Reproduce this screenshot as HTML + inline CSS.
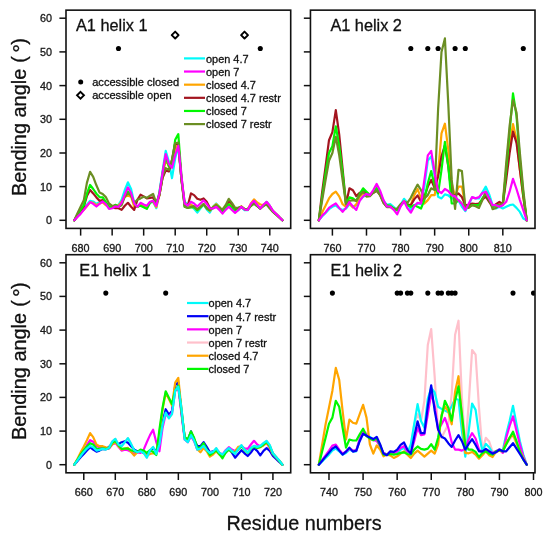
<!DOCTYPE html>
<html><head><meta charset="utf-8"><style>
html,body{margin:0;padding:0;background:#fff;}
svg{display:block;font-family:"Liberation Sans",sans-serif;will-change:transform;}
text{stroke:#111;stroke-width:0.3px;}
</style></head><body>
<svg width="550" height="541" viewBox="0 0 550 541">
<rect width="550" height="541" fill="#fff"/>

<clipPath id="cp1"><rect x="66.0" y="10.15" width="224.7" height="218.25"/></clipPath>
<g clip-path="url(#cp1)" fill="none" stroke-width="2.2" stroke-linejoin="round" stroke-linecap="round">
<polyline stroke="#00FAFA" points="74.3,220.3 77.5,216.3 80.6,212.6 83.8,208.5 86.9,204.8 90.1,200.8 93.2,201.5 96.4,203.8 99.5,202.1 102.7,201.1 105.8,203.8 109.0,206.8 112.2,207.9 115.3,205.5 118.5,204.8 121.6,199.8 124.8,190.0 127.9,182.3 131.1,189.0 134.2,202.8 137.4,206.8 140.5,204.5 143.7,206.8 146.8,208.2 150.0,202.8 153.1,201.8 156.3,208.2 159.4,191.7 162.6,170.8 165.7,150.9 168.9,161.7 172.0,178.2 175.2,158.3 178.3,146.6 181.5,179.9 184.7,201.8 187.8,204.5 191.0,204.5 194.1,208.9 197.3,212.6 200.4,208.5 203.6,204.5 206.7,209.5 209.9,212.6 213.0,206.8 216.2,203.5 219.3,206.8 222.5,211.6 225.6,207.5 228.8,202.8 231.9,206.8 235.1,210.9 238.2,210.2 241.4,206.8 244.5,210.2 247.7,210.2 250.9,204.5 254.0,201.5 257.2,205.5 260.3,208.5 263.5,204.8 266.6,201.8 269.8,205.8 272.9,210.9 276.1,213.9 279.2,216.9 282.4,220.3"/>
<polyline stroke="#FFA500" points="74.3,220.3 77.5,216.3 80.6,212.6 83.8,209.9 86.9,206.2 90.1,202.1 93.2,202.8 96.4,205.2 99.5,203.5 102.7,202.5 105.8,205.2 109.0,206.2 112.2,207.2 115.3,205.5 118.5,205.5 121.6,201.8 124.8,196.7 127.9,195.7 131.1,196.7 134.2,206.8 137.4,206.8 140.5,204.8 143.7,206.2 146.8,207.5 150.0,202.5 153.1,201.5 156.3,207.2 159.4,195.1 162.6,176.5 165.7,159.7 168.9,166.4 172.0,166.4 175.2,149.6 178.3,142.9 181.5,179.9 184.7,203.5 187.8,205.2 191.0,204.5 194.1,207.5 197.3,210.2 200.4,207.5 203.6,204.2 206.7,208.2 209.9,210.9 213.0,206.8 216.2,204.2 219.3,206.8 222.5,210.9 225.6,207.5 228.8,203.5 231.9,206.8 235.1,210.9 238.2,209.5 241.4,206.2 244.5,209.2 247.7,209.5 250.9,203.5 254.0,199.4 257.2,202.5 260.3,204.5 263.5,204.8 266.6,202.5 269.8,206.2 272.9,210.9 276.1,213.9 279.2,216.9 282.4,220.3"/>
<polyline stroke="#A3151F" points="74.3,220.3 77.5,215.6 80.6,210.9 83.8,206.8 86.9,196.1 90.1,190.0 93.2,193.4 96.4,197.4 99.5,200.8 102.7,200.1 105.8,203.5 109.0,206.8 112.2,207.5 115.3,208.2 118.5,208.2 121.6,209.9 124.8,205.8 127.9,202.8 131.1,206.8 134.2,209.9 137.4,199.8 140.5,194.7 143.7,196.4 146.8,198.4 150.0,197.8 153.1,197.4 156.3,204.5 159.4,195.1 162.6,177.9 165.7,170.5 168.9,171.5 172.0,159.7 175.2,143.2 178.3,144.2 181.5,179.9 184.7,205.5 187.8,205.5 191.0,193.4 194.1,195.1 197.3,198.8 200.4,199.8 203.6,198.4 206.7,201.8 209.9,207.9 213.0,208.2 216.2,206.8 219.3,208.5 222.5,210.9 225.6,206.8 228.8,200.8 231.9,203.8 235.1,209.5 238.2,208.5 241.4,206.8 244.5,209.2 247.7,209.5 250.9,205.5 254.0,202.8 257.2,205.5 260.3,208.5 263.5,205.5 266.6,203.5 269.8,206.8 272.9,211.6 276.1,214.3 279.2,217.3 282.4,220.3"/>
<polyline stroke="#00F800" points="74.3,220.3 77.5,214.9 80.6,209.9 83.8,205.2 86.9,193.7 90.1,185.0 93.2,189.0 96.4,193.7 99.5,197.1 102.7,197.4 105.8,201.8 109.0,206.8 112.2,207.2 115.3,204.8 118.5,206.8 121.6,203.5 124.8,195.7 127.9,191.4 131.1,194.7 134.2,203.5 137.4,206.8 140.5,205.8 143.7,207.2 146.8,208.9 150.0,202.8 153.1,200.8 156.3,204.2 159.4,193.4 162.6,173.2 165.7,156.3 168.9,166.4 172.0,163.1 175.2,139.8 178.3,134.1 181.5,176.5 184.7,206.8 187.8,207.9 191.0,207.5 194.1,207.2 197.3,210.2 200.4,207.2 203.6,204.2 206.7,208.2 209.9,210.2 213.0,207.5 216.2,205.2 219.3,207.5 222.5,210.9 225.6,207.5 228.8,204.2 231.9,207.5 235.1,210.9 238.2,209.5 241.4,206.8 244.5,209.2 247.7,209.5 250.9,205.8 254.0,203.5 257.2,206.2 260.3,208.5 263.5,205.8 266.6,203.5 269.8,206.8 272.9,211.6 276.1,214.3 279.2,217.3 282.4,220.3"/>
<polyline stroke="#6B8E23" points="74.3,220.3 77.5,213.2 80.6,206.8 83.8,200.1 86.9,182.9 90.1,171.8 93.2,176.9 96.4,185.3 99.5,192.4 102.7,194.0 105.8,197.1 109.0,203.5 112.2,205.8 115.3,205.5 118.5,206.8 121.6,205.2 124.8,196.7 127.9,193.4 131.1,195.7 134.2,202.8 137.4,199.8 140.5,198.4 143.7,196.7 146.8,197.8 150.0,195.7 153.1,194.0 156.3,202.8 159.4,195.1 162.6,176.2 165.7,168.1 168.9,169.8 172.0,159.7 175.2,143.2 178.3,142.5 181.5,179.9 184.7,206.8 187.8,207.9 191.0,206.8 194.1,206.2 197.3,209.2 200.4,206.8 203.6,204.2 206.7,208.2 209.9,210.2 213.0,207.5 216.2,205.2 219.3,207.9 222.5,209.5 225.6,205.2 228.8,198.8 231.9,202.8 235.1,207.9 238.2,207.5 241.4,206.8 244.5,209.2 247.7,209.5 250.9,205.8 254.0,203.5 257.2,206.2 260.3,208.5 263.5,205.8 266.6,204.5 269.8,208.5 272.9,211.9 276.1,214.6 279.2,217.3 282.4,220.3"/>
<polyline stroke="#FF00FF" points="74.3,220.3 77.5,216.9 80.6,213.9 83.8,209.9 86.9,205.8 90.1,202.1 93.2,203.8 96.4,206.5 99.5,203.8 102.7,201.5 105.8,204.2 109.0,208.9 112.2,208.2 115.3,206.5 118.5,206.8 121.6,202.8 124.8,194.7 127.9,187.3 131.1,193.0 134.2,203.5 137.4,206.8 140.5,202.8 143.7,204.5 146.8,205.8 150.0,201.8 153.1,200.8 156.3,205.8 159.4,193.4 162.6,172.5 165.7,154.0 168.9,164.1 172.0,167.8 175.2,155.0 178.3,145.9 181.5,176.5 184.7,203.5 187.8,205.5 191.0,201.8 194.1,203.5 197.3,206.5 200.4,203.5 203.6,200.4 206.7,203.8 209.9,208.5 213.0,208.5 216.2,206.8 219.3,209.9 222.5,213.6 225.6,209.9 228.8,206.8 231.9,209.9 235.1,212.9 238.2,210.2 241.4,206.8 244.5,209.5 247.7,209.9 250.9,203.8 254.0,200.8 257.2,204.8 260.3,208.5 263.5,204.8 266.6,201.8 269.8,205.8 272.9,210.9 276.1,213.9 279.2,216.9 282.4,220.3"/>
<circle cx="118.5" cy="48.5" r="2.55" fill="#000"/>
<circle cx="260.3" cy="48.5" r="2.55" fill="#000"/>
<path d="M175.2 31.6L178.6 35.1L175.2 38.5L171.7 35.1Z" fill="none" stroke="#000" stroke-width="1.9"/>
<path d="M244.5 31.6L248.0 35.1L244.5 38.5L241.1 35.1Z" fill="none" stroke="#000" stroke-width="1.9"/>
</g>
<rect x="66.0" y="10.15" width="224.7" height="218.25" fill="none" stroke="#111" stroke-width="1.6"/>
<line x1="80.63" y1="228.4" x2="80.63" y2="235.60" stroke="#111" stroke-width="1.5"/>
<text x="80.6" y="251.8" font-size="10.8" text-anchor="middle" fill="#222">680</text>
<line x1="112.15" y1="228.4" x2="112.15" y2="235.60" stroke="#111" stroke-width="1.5"/>
<text x="112.2" y="251.8" font-size="10.8" text-anchor="middle" fill="#222">690</text>
<line x1="143.67" y1="228.4" x2="143.67" y2="235.60" stroke="#111" stroke-width="1.5"/>
<text x="143.7" y="251.8" font-size="10.8" text-anchor="middle" fill="#222">700</text>
<line x1="175.20" y1="228.4" x2="175.20" y2="235.60" stroke="#111" stroke-width="1.5"/>
<text x="175.2" y="251.8" font-size="10.8" text-anchor="middle" fill="#222">710</text>
<line x1="206.72" y1="228.4" x2="206.72" y2="235.60" stroke="#111" stroke-width="1.5"/>
<text x="206.7" y="251.8" font-size="10.8" text-anchor="middle" fill="#222">720</text>
<line x1="238.24" y1="228.4" x2="238.24" y2="235.60" stroke="#111" stroke-width="1.5"/>
<text x="238.2" y="251.8" font-size="10.8" text-anchor="middle" fill="#222">730</text>
<line x1="269.77" y1="228.4" x2="269.77" y2="235.60" stroke="#111" stroke-width="1.5"/>
<text x="269.8" y="251.8" font-size="10.8" text-anchor="middle" fill="#222">740</text>
<line x1="59.4" y1="220.3" x2="66.0" y2="220.3" stroke="#111" stroke-width="1.5"/>
<text x="52" y="224.2" font-size="10.8" text-anchor="end" fill="#222">0</text>
<line x1="59.4" y1="186.6" x2="66.0" y2="186.6" stroke="#111" stroke-width="1.5"/>
<text x="52" y="190.5" font-size="10.8" text-anchor="end" fill="#222">10</text>
<line x1="59.4" y1="153.0" x2="66.0" y2="153.0" stroke="#111" stroke-width="1.5"/>
<text x="52" y="156.9" font-size="10.8" text-anchor="end" fill="#222">20</text>
<line x1="59.4" y1="119.3" x2="66.0" y2="119.3" stroke="#111" stroke-width="1.5"/>
<text x="52" y="123.2" font-size="10.8" text-anchor="end" fill="#222">30</text>
<line x1="59.4" y1="85.6" x2="66.0" y2="85.6" stroke="#111" stroke-width="1.5"/>
<text x="52" y="89.5" font-size="10.8" text-anchor="end" fill="#222">40</text>
<line x1="59.4" y1="51.9" x2="66.0" y2="51.9" stroke="#111" stroke-width="1.5"/>
<text x="52" y="55.8" font-size="10.8" text-anchor="end" fill="#222">50</text>
<line x1="59.4" y1="18.2" x2="66.0" y2="18.2" stroke="#111" stroke-width="1.5"/>
<text x="52" y="22.1" font-size="10.8" text-anchor="end" fill="#222">60</text>
<text x="76" y="30.8" font-size="16.3" fill="#111">A1 helix 1</text>
<clipPath id="cp2"><rect x="310.45" y="10.15" width="224.55" height="218.25"/></clipPath>
<g clip-path="url(#cp2)" fill="none" stroke-width="2.2" stroke-linejoin="round" stroke-linecap="round">
<polyline stroke="#00FAFA" points="318.8,220.3 322.2,216.3 325.6,212.9 329.0,209.2 332.4,206.8 335.8,205.5 339.2,208.5 342.6,209.9 346.0,208.5 349.4,204.2 352.9,206.8 356.3,205.2 359.7,200.1 363.1,196.7 366.5,195.1 369.9,195.7 373.3,191.7 376.7,187.3 380.1,192.4 383.5,201.1 386.9,204.8 390.3,204.2 393.8,207.2 397.2,209.9 400.6,204.8 404.0,198.8 407.4,202.8 410.8,209.9 414.2,205.2 417.6,203.5 421.0,204.2 424.4,186.6 427.8,160.7 431.2,156.3 434.7,176.5 438.1,196.7 441.5,198.4 444.9,194.4 448.3,195.4 451.7,198.4 455.1,198.4 458.5,200.4 461.9,206.8 465.3,211.2 468.7,204.8 472.1,197.4 475.6,198.4 479.0,198.4 482.4,192.4 485.8,186.6 489.2,194.4 492.6,205.2 496.0,208.5 499.4,206.8 502.8,208.5 506.2,206.8 509.6,205.2 513.0,204.5 516.5,207.9 519.9,211.9 523.3,218.6 526.7,220.3"/>
<polyline stroke="#FFA500" points="318.8,220.3 322.2,212.2 325.6,205.5 329.0,198.4 332.4,194.0 335.8,191.7 339.2,196.4 342.6,204.2 346.0,206.8 349.4,203.5 352.9,207.5 356.3,204.2 359.7,196.7 363.1,193.4 366.5,193.4 369.9,195.1 373.3,191.7 376.7,188.3 380.1,193.4 383.5,201.8 386.9,205.8 390.3,205.8 393.8,208.5 397.2,210.2 400.6,205.2 404.0,200.8 407.4,204.2 410.8,205.2 414.2,195.1 417.6,189.0 421.0,198.4 424.4,203.5 427.8,200.1 431.2,195.1 434.7,195.1 438.1,173.2 441.5,133.4 444.9,123.7 448.3,149.9 451.7,183.3 455.1,196.7 458.5,186.6 461.9,186.6 465.3,205.2 468.7,206.2 472.1,204.2 475.6,205.2 479.0,205.2 482.4,199.4 485.8,195.1 489.2,200.8 492.6,206.8 496.0,205.8 499.4,204.2 502.8,204.2 506.2,173.2 509.6,146.2 513.0,124.0 516.5,139.5 519.9,169.8 523.3,196.7 526.7,220.3"/>
<polyline stroke="#A3151F" points="318.8,220.3 322.2,191.7 325.6,166.4 329.0,140.2 332.4,132.1 335.8,110.2 339.2,134.4 342.6,168.8 346.0,204.2 349.4,188.3 352.9,190.3 356.3,196.1 359.7,192.7 363.1,191.7 366.5,192.7 369.9,195.1 373.3,192.7 376.7,190.7 380.1,195.1 383.5,202.8 386.9,206.8 390.3,206.8 393.8,208.5 397.2,210.2 400.6,205.2 404.0,201.8 407.4,205.2 410.8,205.2 414.2,199.4 417.6,195.4 421.0,201.8 424.4,196.7 427.8,186.6 431.2,179.9 434.7,188.3 438.1,176.5 441.5,156.3 444.9,145.2 448.3,166.4 451.7,195.1 455.1,195.1 458.5,193.4 461.9,197.1 465.3,205.2 468.7,205.2 472.1,203.5 475.6,204.2 479.0,203.5 482.4,199.4 485.8,196.7 489.2,201.8 492.6,206.8 496.0,204.2 499.4,201.8 502.8,204.2 506.2,179.9 509.6,153.0 513.0,131.7 516.5,142.9 519.9,169.8 523.3,196.7 526.7,220.3"/>
<polyline stroke="#00F800" points="318.8,220.3 322.2,196.7 325.6,173.2 329.0,153.0 332.4,146.2 335.8,126.3 339.2,145.9 342.6,173.2 346.0,204.2 349.4,197.4 352.9,198.4 356.3,200.8 359.7,194.0 363.1,188.3 366.5,191.7 369.9,195.1 373.3,191.7 376.7,188.3 380.1,193.4 383.5,201.8 386.9,205.2 390.3,205.8 393.8,208.5 397.2,210.2 400.6,205.8 404.0,201.8 407.4,205.2 410.8,206.8 414.2,205.2 417.6,206.8 421.0,208.5 424.4,200.1 427.8,183.3 431.2,171.1 434.7,186.6 438.1,193.4 441.5,169.8 444.9,141.8 448.3,166.4 451.7,203.5 455.1,203.5 458.5,200.1 461.9,203.5 465.3,206.8 468.7,206.8 472.1,205.2 475.6,205.2 479.0,205.2 482.4,198.4 485.8,193.4 489.2,200.1 492.6,206.8 496.0,205.2 499.4,205.2 502.8,205.2 506.2,169.8 509.6,131.7 513.0,93.3 516.5,115.9 519.9,159.7 523.3,193.4 526.7,220.3"/>
<polyline stroke="#6B8E23" points="318.8,220.3 322.2,200.1 325.6,179.9 329.0,160.7 332.4,153.0 335.8,136.8 339.2,155.0 342.6,179.9 346.0,204.2 349.4,200.8 352.9,200.1 356.3,200.8 359.7,195.1 363.1,191.7 366.5,196.7 369.9,196.1 373.3,192.7 376.7,190.7 380.1,195.1 383.5,202.8 386.9,207.2 390.3,206.8 393.8,209.5 397.2,208.5 400.6,204.2 404.0,201.8 407.4,202.8 410.8,197.8 414.2,190.7 417.6,184.6 421.0,190.0 424.4,198.4 427.8,195.1 431.2,188.3 434.7,190.0 438.1,109.2 441.5,51.9 444.9,38.4 448.3,104.1 451.7,179.9 455.1,208.9 458.5,169.8 461.9,171.1 465.3,206.8 468.7,207.9 472.1,205.2 475.6,206.2 479.0,207.9 482.4,200.1 485.8,191.7 489.2,198.4 492.6,209.2 496.0,207.9 499.4,205.2 502.8,203.5 506.2,163.1 509.6,126.0 513.0,100.1 516.5,112.5 519.9,153.0 523.3,190.0 526.7,220.3"/>
<polyline stroke="#FF00FF" points="318.8,220.3 322.2,215.6 325.6,212.2 329.0,207.9 332.4,205.5 335.8,203.5 339.2,207.9 342.6,211.9 346.0,207.9 349.4,202.1 352.9,206.5 356.3,209.9 359.7,200.8 363.1,196.4 366.5,194.0 369.9,195.1 373.3,190.0 376.7,183.9 380.1,190.7 383.5,200.1 386.9,206.5 390.3,206.5 393.8,209.9 397.2,214.3 400.6,206.5 404.0,201.1 407.4,208.2 410.8,212.6 414.2,206.5 417.6,202.8 421.0,203.5 424.4,179.9 427.8,155.3 431.2,150.9 434.7,173.2 438.1,191.0 441.5,193.0 444.9,189.0 448.3,191.0 451.7,195.4 455.1,196.4 458.5,200.4 461.9,203.8 465.3,210.2 468.7,203.8 472.1,197.1 475.6,198.4 479.0,197.1 482.4,193.0 485.8,191.7 489.2,198.4 492.6,205.2 496.0,205.2 499.4,206.8 502.8,205.2 506.2,201.8 509.6,191.7 513.0,178.9 516.5,189.0 519.9,200.1 523.3,210.2 526.7,220.3"/>
<circle cx="410.8" cy="48.5" r="2.55" fill="#000"/>
<circle cx="427.8" cy="48.5" r="2.55" fill="#000"/>
<circle cx="438.1" cy="48.5" r="2.55" fill="#000"/>
<circle cx="455.1" cy="48.5" r="2.55" fill="#000"/>
<circle cx="465.3" cy="48.5" r="2.55" fill="#000"/>
<circle cx="523.3" cy="48.5" r="2.55" fill="#000"/>
</g>
<rect x="310.45" y="10.15" width="224.55" height="218.25" fill="none" stroke="#111" stroke-width="1.6"/>
<line x1="332.40" y1="228.4" x2="332.40" y2="235.60" stroke="#111" stroke-width="1.5"/>
<text x="332.4" y="251.8" font-size="10.8" text-anchor="middle" fill="#222">760</text>
<line x1="366.49" y1="228.4" x2="366.49" y2="235.60" stroke="#111" stroke-width="1.5"/>
<text x="366.5" y="251.8" font-size="10.8" text-anchor="middle" fill="#222">770</text>
<line x1="400.57" y1="228.4" x2="400.57" y2="235.60" stroke="#111" stroke-width="1.5"/>
<text x="400.6" y="251.8" font-size="10.8" text-anchor="middle" fill="#222">780</text>
<line x1="434.65" y1="228.4" x2="434.65" y2="235.60" stroke="#111" stroke-width="1.5"/>
<text x="434.7" y="251.8" font-size="10.8" text-anchor="middle" fill="#222">790</text>
<line x1="468.74" y1="228.4" x2="468.74" y2="235.60" stroke="#111" stroke-width="1.5"/>
<text x="468.7" y="251.8" font-size="10.8" text-anchor="middle" fill="#222">800</text>
<line x1="502.82" y1="228.4" x2="502.82" y2="235.60" stroke="#111" stroke-width="1.5"/>
<text x="502.8" y="251.8" font-size="10.8" text-anchor="middle" fill="#222">810</text>
<line x1="303.84999999999997" y1="220.3" x2="310.45" y2="220.3" stroke="#111" stroke-width="1.5"/>
<line x1="303.84999999999997" y1="186.6" x2="310.45" y2="186.6" stroke="#111" stroke-width="1.5"/>
<line x1="303.84999999999997" y1="153.0" x2="310.45" y2="153.0" stroke="#111" stroke-width="1.5"/>
<line x1="303.84999999999997" y1="119.3" x2="310.45" y2="119.3" stroke="#111" stroke-width="1.5"/>
<line x1="303.84999999999997" y1="85.6" x2="310.45" y2="85.6" stroke="#111" stroke-width="1.5"/>
<line x1="303.84999999999997" y1="51.9" x2="310.45" y2="51.9" stroke="#111" stroke-width="1.5"/>
<line x1="303.84999999999997" y1="18.2" x2="310.45" y2="18.2" stroke="#111" stroke-width="1.5"/>
<text x="330.4" y="30.8" font-size="16.3" fill="#111">A1 helix 2</text>
<clipPath id="cp3"><rect x="66.0" y="254.7" width="224.7" height="218.10000000000002"/></clipPath>
<g clip-path="url(#cp3)" fill="none" stroke-width="2.2" stroke-linejoin="round" stroke-linecap="round">
<polyline stroke="#FFC0CB" points="74.3,464.7 77.5,460.3 80.6,456.0 83.8,451.9 86.9,448.6 90.1,445.9 93.2,447.2 96.4,450.6 99.5,449.9 102.7,448.9 105.8,449.6 109.0,447.9 112.2,441.5 115.3,438.8 118.5,444.5 121.6,446.2 124.8,442.2 127.9,438.1 131.1,443.9 134.2,450.2 137.4,452.3 140.5,451.3 143.7,452.9 146.8,457.7 150.0,450.2 153.1,446.9 156.3,454.0 159.4,444.5 162.6,424.3 165.7,412.6 168.9,418.3 172.0,414.2 175.2,390.7 178.3,386.6 181.5,408.5 184.7,439.5 187.8,442.2 191.0,435.1 194.1,440.5 197.3,449.6 200.4,448.6 203.6,445.9 206.7,450.2 209.9,452.9 213.0,451.9 216.2,448.2 219.3,452.6 222.5,454.6 225.6,450.9 228.8,448.2 231.9,450.9 235.1,454.0 238.2,448.9 241.4,445.2 244.5,449.6 247.7,452.6 250.9,448.2 254.0,445.9 257.2,446.9 260.3,445.9 263.5,443.2 266.6,440.8 269.8,445.2 272.9,453.3 276.1,457.0 279.2,460.3 282.4,464.7"/>
<polyline stroke="#0000F5" points="74.3,464.7 77.5,461.0 80.6,457.3 83.8,454.0 86.9,450.6 90.1,447.2 93.2,449.6 96.4,451.6 99.5,450.6 102.7,448.9 105.8,449.2 109.0,446.9 112.2,444.2 115.3,442.5 118.5,444.2 121.6,442.2 124.8,441.2 127.9,442.8 131.1,446.2 134.2,449.6 137.4,451.3 140.5,451.3 143.7,452.9 146.8,454.6 150.0,451.3 153.1,447.9 156.3,451.3 159.4,441.2 162.6,422.3 165.7,409.2 168.9,414.6 172.0,410.9 175.2,385.3 178.3,382.3 181.5,412.6 184.7,437.8 187.8,440.2 191.0,431.4 194.1,439.5 197.3,445.9 200.4,446.2 203.6,442.2 206.7,446.9 209.9,452.3 213.0,451.3 216.2,450.9 219.3,454.0 222.5,455.3 225.6,452.6 228.8,448.9 231.9,452.6 235.1,457.7 238.2,454.0 241.4,450.2 244.5,453.3 247.7,456.0 250.9,452.6 254.0,448.2 257.2,450.9 260.3,455.3 263.5,450.9 266.6,448.2 269.8,450.9 272.9,456.0 276.1,459.0 279.2,462.0 282.4,464.7"/>
<polyline stroke="#FF00FF" points="74.3,464.7 77.5,460.0 80.6,455.3 83.8,450.6 86.9,445.2 90.1,440.2 93.2,441.8 96.4,445.9 99.5,447.2 102.7,447.2 105.8,448.6 109.0,448.6 112.2,444.5 115.3,442.5 118.5,446.9 121.6,450.6 124.8,449.6 127.9,450.2 131.1,451.9 134.2,454.0 137.4,452.3 140.5,452.9 143.7,449.6 146.8,442.2 150.0,435.1 153.1,429.7 156.3,442.2 159.4,451.3 162.6,427.7 165.7,414.2 168.9,416.6 172.0,412.6 175.2,390.7 178.3,388.0 181.5,414.2 184.7,439.5 187.8,442.2 191.0,436.1 194.1,441.2 197.3,449.6 200.4,448.6 203.6,446.2 206.7,450.2 209.9,452.9 213.0,451.9 216.2,449.6 219.3,452.6 222.5,454.6 225.6,450.2 228.8,447.2 231.9,449.6 235.1,450.9 238.2,448.2 241.4,446.5 244.5,448.2 247.7,448.9 250.9,444.5 254.0,440.8 257.2,444.5 260.3,446.5 263.5,445.2 266.6,443.2 269.8,447.9 272.9,453.6 276.1,457.3 279.2,460.7 282.4,464.7"/>
<polyline stroke="#FFA500" points="74.3,464.7 77.5,458.7 80.6,452.6 83.8,446.5 86.9,440.2 90.1,433.1 93.2,437.1 96.4,444.5 99.5,446.2 102.7,446.2 105.8,447.2 109.0,447.9 112.2,444.5 115.3,441.8 118.5,446.2 121.6,449.6 124.8,448.6 127.9,447.9 131.1,451.9 134.2,455.6 137.4,452.3 140.5,450.6 143.7,452.9 146.8,455.6 150.0,454.0 153.1,453.3 156.3,453.3 159.4,434.4 162.6,409.2 165.7,392.7 168.9,399.1 172.0,405.5 175.2,382.6 178.3,377.9 181.5,409.2 184.7,437.8 187.8,440.5 191.0,432.4 194.1,439.1 197.3,449.2 200.4,452.3 203.6,447.9 206.7,451.3 209.9,456.6 213.0,454.6 216.2,451.3 219.3,454.6 222.5,456.3 225.6,451.9 228.8,449.6 231.9,451.9 235.1,451.3 238.2,446.9 241.4,446.2 244.5,449.6 247.7,452.6 250.9,448.6 254.0,446.2 257.2,447.9 260.3,447.2 263.5,445.2 266.6,442.8 269.8,447.2 272.9,454.0 276.1,457.3 279.2,460.7 282.4,464.7"/>
<polyline stroke="#00F800" points="74.3,464.7 77.5,459.7 80.6,454.6 83.8,450.2 86.9,446.5 90.1,443.2 93.2,444.5 96.4,448.6 99.5,448.9 102.7,448.2 105.8,448.9 109.0,448.2 112.2,442.8 115.3,440.8 118.5,445.2 121.6,448.9 124.8,448.6 127.9,448.6 131.1,450.2 134.2,451.3 137.4,451.9 140.5,449.6 143.7,450.6 146.8,452.9 150.0,450.2 153.1,451.9 156.3,455.0 159.4,429.7 162.6,407.5 165.7,391.3 168.9,397.7 172.0,404.1 175.2,390.7 178.3,385.6 181.5,410.9 184.7,436.8 187.8,439.5 191.0,431.4 194.1,437.8 197.3,447.6 200.4,447.6 203.6,443.2 206.7,449.6 209.9,455.0 213.0,452.9 216.2,450.2 219.3,454.0 222.5,458.3 225.6,452.6 228.8,449.6 231.9,451.9 235.1,452.9 238.2,449.6 241.4,446.2 244.5,450.2 247.7,452.9 250.9,448.6 254.0,446.5 257.2,447.9 260.3,446.9 263.5,444.5 266.6,441.8 269.8,446.2 272.9,453.6 276.1,457.3 279.2,460.7 282.4,464.7"/>
<polyline stroke="#00FAFA" points="74.3,464.7 77.5,460.3 80.6,456.0 83.8,451.9 86.9,448.6 90.1,445.9 93.2,447.2 96.4,450.6 99.5,449.9 102.7,448.9 105.8,449.6 109.0,447.9 112.2,441.5 115.3,438.8 118.5,444.5 121.6,446.2 124.8,442.2 127.9,438.1 131.1,443.9 134.2,450.2 137.4,452.3 140.5,451.3 143.7,452.9 146.8,457.7 150.0,450.2 153.1,446.9 156.3,454.0 159.4,444.5 162.6,424.3 165.7,412.6 168.9,418.3 172.0,414.2 175.2,390.7 178.3,386.6 181.5,408.5 184.7,439.5 187.8,442.2 191.0,435.1 194.1,440.5 197.3,449.6 200.4,448.6 203.6,445.9 206.7,450.2 209.9,452.9 213.0,451.9 216.2,448.2 219.3,452.6 222.5,454.6 225.6,450.9 228.8,448.2 231.9,450.9 235.1,454.0 238.2,448.9 241.4,445.2 244.5,449.6 247.7,452.6 250.9,448.2 254.0,445.9 257.2,446.9 260.3,445.9 263.5,443.2 266.6,440.8 269.8,445.2 272.9,453.3 276.1,457.0 279.2,460.3 282.4,464.7"/>
<circle cx="105.8" cy="293.1" r="2.55" fill="#000"/>
<circle cx="165.7" cy="293.1" r="2.55" fill="#000"/>
</g>
<rect x="66.0" y="254.7" width="224.7" height="218.10000000000002" fill="none" stroke="#111" stroke-width="1.6"/>
<line x1="83.78" y1="472.8" x2="83.78" y2="480.00" stroke="#111" stroke-width="1.5"/>
<text x="83.8" y="496.2" font-size="10.8" text-anchor="middle" fill="#222">660</text>
<line x1="115.30" y1="472.8" x2="115.30" y2="480.00" stroke="#111" stroke-width="1.5"/>
<text x="115.3" y="496.2" font-size="10.8" text-anchor="middle" fill="#222">670</text>
<line x1="146.83" y1="472.8" x2="146.83" y2="480.00" stroke="#111" stroke-width="1.5"/>
<text x="146.8" y="496.2" font-size="10.8" text-anchor="middle" fill="#222">680</text>
<line x1="178.35" y1="472.8" x2="178.35" y2="480.00" stroke="#111" stroke-width="1.5"/>
<text x="178.3" y="496.2" font-size="10.8" text-anchor="middle" fill="#222">690</text>
<line x1="209.87" y1="472.8" x2="209.87" y2="480.00" stroke="#111" stroke-width="1.5"/>
<text x="209.9" y="496.2" font-size="10.8" text-anchor="middle" fill="#222">700</text>
<line x1="241.40" y1="472.8" x2="241.40" y2="480.00" stroke="#111" stroke-width="1.5"/>
<text x="241.4" y="496.2" font-size="10.8" text-anchor="middle" fill="#222">710</text>
<line x1="272.92" y1="472.8" x2="272.92" y2="480.00" stroke="#111" stroke-width="1.5"/>
<text x="272.9" y="496.2" font-size="10.8" text-anchor="middle" fill="#222">720</text>
<line x1="59.4" y1="464.7" x2="66.0" y2="464.7" stroke="#111" stroke-width="1.5"/>
<text x="52" y="468.6" font-size="10.8" text-anchor="end" fill="#222">0</text>
<line x1="59.4" y1="431.1" x2="66.0" y2="431.1" stroke="#111" stroke-width="1.5"/>
<text x="52" y="435.0" font-size="10.8" text-anchor="end" fill="#222">10</text>
<line x1="59.4" y1="397.4" x2="66.0" y2="397.4" stroke="#111" stroke-width="1.5"/>
<text x="52" y="401.3" font-size="10.8" text-anchor="end" fill="#222">20</text>
<line x1="59.4" y1="363.8" x2="66.0" y2="363.8" stroke="#111" stroke-width="1.5"/>
<text x="52" y="367.6" font-size="10.8" text-anchor="end" fill="#222">30</text>
<line x1="59.4" y1="330.1" x2="66.0" y2="330.1" stroke="#111" stroke-width="1.5"/>
<text x="52" y="334.0" font-size="10.8" text-anchor="end" fill="#222">40</text>
<line x1="59.4" y1="296.4" x2="66.0" y2="296.4" stroke="#111" stroke-width="1.5"/>
<text x="52" y="300.3" font-size="10.8" text-anchor="end" fill="#222">50</text>
<line x1="59.4" y1="262.8" x2="66.0" y2="262.8" stroke="#111" stroke-width="1.5"/>
<text x="52" y="266.7" font-size="10.8" text-anchor="end" fill="#222">60</text>
<text x="79.3" y="276" font-size="16.3" fill="#111">E1 helix 1</text>
<clipPath id="cp4"><rect x="310.45" y="254.7" width="224.55" height="218.10000000000002"/></clipPath>
<g clip-path="url(#cp4)" fill="none" stroke-width="2.2" stroke-linejoin="round" stroke-linecap="round">
<polyline stroke="#FFC0CB" points="318.8,464.7 322.2,460.3 325.6,456.0 329.0,451.6 332.4,447.2 335.8,445.2 339.2,449.6 342.6,453.6 346.0,451.3 349.4,447.9 352.9,450.2 356.3,450.2 359.7,437.8 363.1,429.4 366.5,433.4 369.9,437.8 373.3,439.5 376.7,440.2 380.1,446.2 383.5,452.9 386.9,454.6 390.3,451.9 393.8,452.9 397.2,451.3 400.6,447.9 404.0,446.2 407.4,451.3 410.8,447.9 414.2,424.3 417.6,414.2 421.0,421.0 424.4,400.8 427.8,344.9 431.2,329.1 434.7,377.2 438.1,431.1 441.5,437.8 444.9,431.1 448.3,424.3 451.7,394.0 455.1,334.8 458.5,320.7 461.9,397.4 465.3,447.9 468.7,404.1 472.1,350.0 475.6,354.7 479.0,407.5 482.4,451.3 485.8,437.8 489.2,441.5 492.6,451.9 496.0,451.3 499.4,449.6 502.8,451.3 506.2,444.5 509.6,439.5 513.0,435.1 516.5,444.5 519.9,451.3 523.3,458.0 526.7,464.7"/>
<polyline stroke="#00FAFA" points="318.8,464.7 322.2,461.4 325.6,458.0 329.0,454.6 332.4,450.6 335.8,448.6 339.2,451.3 342.6,454.6 346.0,452.9 349.4,449.6 352.9,451.3 356.3,451.3 359.7,439.5 363.1,431.7 366.5,434.4 369.9,436.8 373.3,439.5 376.7,439.5 380.1,446.2 383.5,452.9 386.9,454.6 390.3,452.9 393.8,454.0 397.2,452.9 400.6,449.6 404.0,447.9 407.4,452.9 410.8,444.5 414.2,424.3 417.6,404.1 421.0,421.0 424.4,427.7 427.8,398.8 431.2,388.0 434.7,392.4 438.1,406.8 441.5,408.9 444.9,410.5 448.3,412.2 451.7,406.2 455.1,398.8 458.5,399.8 461.9,431.1 465.3,456.6 468.7,431.1 472.1,403.5 475.6,409.9 479.0,434.4 482.4,451.3 485.8,443.9 489.2,447.2 492.6,452.9 496.0,451.3 499.4,449.6 502.8,450.6 506.2,434.4 509.6,421.0 513.0,405.8 516.5,424.3 519.9,441.2 523.3,454.6 526.7,464.7"/>
<polyline stroke="#FF00FF" points="318.8,464.7 322.2,460.0 325.6,455.3 329.0,450.6 332.4,445.5 335.8,444.5 339.2,449.6 342.6,453.6 346.0,451.6 349.4,448.6 352.9,450.6 356.3,450.6 359.7,439.5 363.1,430.7 366.5,434.4 369.9,438.5 373.3,440.2 376.7,440.8 380.1,446.2 383.5,452.9 386.9,454.6 390.3,451.9 393.8,452.9 397.2,451.3 400.6,447.9 404.0,446.2 407.4,451.3 410.8,452.9 414.2,441.2 417.6,427.7 421.0,435.1 424.4,434.4 427.8,414.2 431.2,393.4 434.7,406.2 438.1,429.7 441.5,424.3 444.9,417.9 448.3,427.7 451.7,442.2 455.1,449.6 458.5,449.6 461.9,450.6 465.3,448.6 468.7,439.5 472.1,433.1 475.6,438.5 479.0,449.6 482.4,452.9 485.8,449.6 489.2,451.3 492.6,452.9 496.0,451.3 499.4,449.6 502.8,452.9 506.2,437.8 509.6,426.0 513.0,416.3 516.5,431.1 519.9,444.5 523.3,456.3 526.7,464.7"/>
<polyline stroke="#FFA500" points="318.8,464.7 322.2,444.5 325.6,424.3 329.0,407.5 332.4,390.7 335.8,367.8 339.2,379.9 342.6,410.9 346.0,439.5 349.4,419.6 352.9,422.7 356.3,423.7 359.7,414.2 363.1,404.8 366.5,417.6 369.9,444.5 373.3,453.6 376.7,445.5 380.1,449.6 383.5,456.3 386.9,454.6 390.3,455.3 393.8,458.0 397.2,456.3 400.6,453.6 404.0,451.3 407.4,454.6 410.8,458.0 414.2,453.6 417.6,450.6 421.0,453.6 424.4,456.6 427.8,453.6 431.2,450.6 434.7,453.6 438.1,444.5 441.5,415.2 444.9,406.2 448.3,411.5 451.7,424.3 455.1,391.7 458.5,376.2 461.9,417.6 465.3,452.9 468.7,453.3 472.1,451.9 475.6,454.6 479.0,458.7 482.4,455.3 485.8,451.3 489.2,455.3 492.6,457.0 496.0,451.9 499.4,450.6 502.8,451.3 506.2,442.8 509.6,437.8 513.0,434.4 516.5,442.8 519.9,451.3 523.3,458.0 526.7,464.7"/>
<polyline stroke="#00F800" points="318.8,464.7 322.2,451.3 325.6,437.8 329.0,423.7 332.4,417.6 335.8,400.8 339.2,406.8 342.6,427.7 346.0,447.6 349.4,439.5 352.9,440.5 356.3,440.5 359.7,434.4 363.1,428.7 366.5,436.1 369.9,438.5 373.3,440.2 376.7,438.5 380.1,445.2 383.5,454.6 386.9,454.6 390.3,454.0 393.8,454.6 397.2,454.0 400.6,452.9 404.0,452.3 407.4,454.0 410.8,454.6 414.2,449.6 417.6,446.5 421.0,448.9 424.4,449.6 427.8,448.6 431.2,444.2 434.7,449.6 438.1,437.8 441.5,416.9 444.9,400.8 448.3,407.8 451.7,420.6 455.1,400.8 458.5,386.3 461.9,414.2 465.3,444.5 468.7,449.6 472.1,449.6 475.6,451.9 479.0,457.0 482.4,452.9 485.8,451.3 489.2,453.6 492.6,454.6 496.0,451.3 499.4,450.2 502.8,451.3 506.2,444.5 509.6,437.8 513.0,431.7 516.5,441.2 519.9,451.3 523.3,459.7 526.7,464.7"/>
<polyline stroke="#0000F5" points="318.8,464.7 322.2,460.7 325.6,456.6 329.0,452.6 332.4,448.6 335.8,446.5 339.2,450.6 342.6,454.6 346.0,451.6 349.4,447.6 352.9,451.6 356.3,450.6 359.7,441.2 363.1,433.8 366.5,435.8 369.9,437.5 373.3,439.1 376.7,436.8 380.1,444.2 383.5,453.6 386.9,455.3 390.3,451.3 393.8,451.9 397.2,449.6 400.6,444.9 404.0,442.5 407.4,449.6 410.8,453.6 414.2,436.8 417.6,421.3 421.0,433.1 424.4,433.1 427.8,406.2 431.2,385.3 434.7,410.9 438.1,429.4 441.5,436.8 444.9,438.5 448.3,443.2 451.7,446.9 455.1,440.5 458.5,435.1 461.9,441.2 465.3,449.6 468.7,443.9 472.1,439.1 475.6,444.9 479.0,451.3 482.4,451.3 485.8,448.9 489.2,451.3 492.6,453.6 496.0,452.3 499.4,449.6 502.8,451.3 506.2,451.3 509.6,447.2 513.0,443.2 516.5,448.6 519.9,454.0 523.3,459.3 526.7,464.7"/>
<circle cx="332.4" cy="293.1" r="2.55" fill="#000"/>
<circle cx="397.2" cy="293.1" r="2.55" fill="#000"/>
<circle cx="400.6" cy="293.1" r="2.55" fill="#000"/>
<circle cx="407.4" cy="293.1" r="2.55" fill="#000"/>
<circle cx="410.8" cy="293.1" r="2.55" fill="#000"/>
<circle cx="427.8" cy="293.1" r="2.55" fill="#000"/>
<circle cx="438.1" cy="293.1" r="2.55" fill="#000"/>
<circle cx="441.5" cy="293.1" r="2.55" fill="#000"/>
<circle cx="448.3" cy="293.1" r="2.55" fill="#000"/>
<circle cx="451.7" cy="293.1" r="2.55" fill="#000"/>
<circle cx="455.1" cy="293.1" r="2.55" fill="#000"/>
<circle cx="513.0" cy="293.1" r="2.55" fill="#000"/>
<circle cx="533.5" cy="293.1" r="2.55" fill="#000"/>
</g>
<rect x="310.45" y="254.7" width="224.55" height="218.10000000000002" fill="none" stroke="#111" stroke-width="1.6"/>
<line x1="328.99" y1="472.8" x2="328.99" y2="480.00" stroke="#111" stroke-width="1.5"/>
<text x="329.0" y="496.2" font-size="10.8" text-anchor="middle" fill="#222">740</text>
<line x1="363.08" y1="472.8" x2="363.08" y2="480.00" stroke="#111" stroke-width="1.5"/>
<text x="363.1" y="496.2" font-size="10.8" text-anchor="middle" fill="#222">750</text>
<line x1="397.16" y1="472.8" x2="397.16" y2="480.00" stroke="#111" stroke-width="1.5"/>
<text x="397.2" y="496.2" font-size="10.8" text-anchor="middle" fill="#222">760</text>
<line x1="431.25" y1="472.8" x2="431.25" y2="480.00" stroke="#111" stroke-width="1.5"/>
<text x="431.2" y="496.2" font-size="10.8" text-anchor="middle" fill="#222">770</text>
<line x1="465.33" y1="472.8" x2="465.33" y2="480.00" stroke="#111" stroke-width="1.5"/>
<text x="465.3" y="496.2" font-size="10.8" text-anchor="middle" fill="#222">780</text>
<line x1="499.42" y1="472.8" x2="499.42" y2="480.00" stroke="#111" stroke-width="1.5"/>
<text x="499.4" y="496.2" font-size="10.8" text-anchor="middle" fill="#222">790</text>
<line x1="533.50" y1="472.8" x2="533.50" y2="480.00" stroke="#111" stroke-width="1.5"/>
<text x="533.5" y="496.2" font-size="10.8" text-anchor="middle" fill="#222">800</text>
<line x1="303.84999999999997" y1="464.7" x2="310.45" y2="464.7" stroke="#111" stroke-width="1.5"/>
<line x1="303.84999999999997" y1="431.1" x2="310.45" y2="431.1" stroke="#111" stroke-width="1.5"/>
<line x1="303.84999999999997" y1="397.4" x2="310.45" y2="397.4" stroke="#111" stroke-width="1.5"/>
<line x1="303.84999999999997" y1="363.8" x2="310.45" y2="363.8" stroke="#111" stroke-width="1.5"/>
<line x1="303.84999999999997" y1="330.1" x2="310.45" y2="330.1" stroke="#111" stroke-width="1.5"/>
<line x1="303.84999999999997" y1="296.4" x2="310.45" y2="296.4" stroke="#111" stroke-width="1.5"/>
<line x1="303.84999999999997" y1="262.8" x2="310.45" y2="262.8" stroke="#111" stroke-width="1.5"/>
<text x="330.6" y="276" font-size="16.3" fill="#111">E1 helix 2</text>
<text transform="translate(26.3 196.0) rotate(-90)" font-size="19.9" fill="#111">Bending angle<tspan dx="0.5"> (</tspan><tspan dx="-2"> </tspan><tspan dy="1.6" font-size="21">°</tspan><tspan dy="-1.6" dx="-0.6">)</tspan></text>
<text transform="translate(26.3 440.1) rotate(-90)" font-size="19.9" fill="#111">Bending angle<tspan dx="0.5"> (</tspan><tspan dx="-2"> </tspan><tspan dy="1.6" font-size="21">°</tspan><tspan dy="-1.6" dx="-0.6">)</tspan></text>
<text x="304.1" y="529.5" font-size="19.8" text-anchor="middle" fill="#111">Residue numbers</text>
<line x1="184" y1="58.4" x2="205" y2="58.4" stroke="#00FAFA" stroke-width="2.2"/>
<text x="206" y="62.7" font-size="10.95" fill="#111">open 4.7</text>
<line x1="184" y1="71.53999999999999" x2="205" y2="71.53999999999999" stroke="#FF00FF" stroke-width="2.2"/>
<text x="206" y="75.8" font-size="10.95" fill="#111">open 7</text>
<line x1="184" y1="84.68" x2="205" y2="84.68" stroke="#FFA500" stroke-width="2.2"/>
<text x="206" y="89.0" font-size="10.95" fill="#111">closed 4.7</text>
<line x1="184" y1="97.82" x2="205" y2="97.82" stroke="#A3151F" stroke-width="2.2"/>
<text x="206" y="102.1" font-size="10.95" fill="#111">closed 4.7 restr</text>
<line x1="184" y1="110.96000000000001" x2="205" y2="110.96000000000001" stroke="#00F800" stroke-width="2.2"/>
<text x="206" y="115.3" font-size="10.95" fill="#111">closed 7</text>
<line x1="184" y1="124.1" x2="205" y2="124.1" stroke="#6B8E23" stroke-width="2.2"/>
<text x="206" y="128.4" font-size="10.95" fill="#111">closed 7 restr</text>
<line x1="187.0" y1="303.0" x2="208.5" y2="303.0" stroke="#00FAFA" stroke-width="2.2"/>
<text x="208.6" y="307.3" font-size="10.95" fill="#111">open 4.7</text>
<line x1="187.0" y1="316.18" x2="208.5" y2="316.18" stroke="#0000F5" stroke-width="2.2"/>
<text x="208.6" y="320.5" font-size="10.95" fill="#111">open 4.7 restr</text>
<line x1="187.0" y1="329.36" x2="208.5" y2="329.36" stroke="#FF00FF" stroke-width="2.2"/>
<text x="208.6" y="333.7" font-size="10.95" fill="#111">open 7</text>
<line x1="187.0" y1="342.54" x2="208.5" y2="342.54" stroke="#FFC0CB" stroke-width="2.2"/>
<text x="208.6" y="346.8" font-size="10.95" fill="#111">open 7 restr</text>
<line x1="187.0" y1="355.72" x2="208.5" y2="355.72" stroke="#FFA500" stroke-width="2.2"/>
<text x="208.6" y="360.0" font-size="10.95" fill="#111">closed 4.7</text>
<line x1="187.0" y1="368.9" x2="208.5" y2="368.9" stroke="#00F800" stroke-width="2.2"/>
<text x="208.6" y="373.2" font-size="10.95" fill="#111">closed 7</text>
<circle cx="80.7" cy="82.1" r="2.5" fill="#000"/>
<path d="M80.5 91.85L83.95 95.3L80.5 98.75L77.05 95.3Z" fill="none" stroke="#000" stroke-width="1.9"/>
<text x="92.2" y="85.8" font-size="11.1" fill="#111">accessible closed</text>
<text x="92.2" y="98.9" font-size="11.1" fill="#111">accessible open</text>
</svg></body></html>
